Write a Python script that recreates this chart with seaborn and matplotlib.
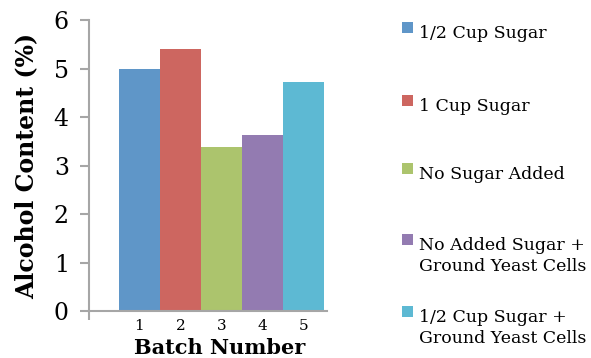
import matplotlib
matplotlib.use("Agg")
import matplotlib.pyplot as plt
from matplotlib.patches import Rectangle
import seaborn as sns
import pandas as pd

batches = ["1", "2", "3", "4", "5"]
alcohol = [5.0, 5.4, 3.38, 3.63, 4.72]
treatments = [
    "1/2 Cup Sugar",
    "1 Cup Sugar",
    "No Sugar Added",
    "No Added Sugar +\nGround Yeast Cells",
    "1/2 Cup Sugar +\nGround Yeast Cells",
]
colors = ["#5F96C8", "#CD6660", "#ACC46D", "#937BB1", "#5DB9D3"]
y_ticks = [0, 1, 2, 3, 4, 5, 6]

sns.set_theme(style="white")
plt.rcParams["font.family"] = ["DejaVu Serif"]
plt.rcParams["text.color"] = "black"
plt.rcParams["xtick.color"] = "black"
plt.rcParams["ytick.color"] = "black"

W, H = 591, 358
fig = plt.figure(figsize=(W / 100, H / 100), dpi=100)
ax = fig.add_axes([89 / W, 1 - 311 / H, (327 - 89) / W, (311 - 20) / H])

df = pd.DataFrame({"batch": batches, "alcohol": alcohol})
sns.barplot(data=df, x="batch", y="alcohol", hue="batch", palette=colors,
            width=1.0, saturation=1, legend=False, ax=ax, linewidth=0)

ax.set_xlim(-1.23, 4.57)
ax.set_ylim(0, 6)
ax.set_yticks(y_ticks)
ax.set_yticklabels([str(t) for t in y_ticks], fontsize=17)
ax.set_xticks(range(len(batches)))
ax.set_xticklabels(batches, fontsize=11)
ax.tick_params(axis="x", length=0, pad=6)
ax.tick_params(axis="y", length=6.5, width=1.5, color="#A6A6A6",
               labelcolor="black", direction="out", pad=8, left=True)
ax.set_xticks([-1.23], minor=True)
ax.tick_params(axis="x", which="minor", length=6.5, width=1.5,
               color="#A6A6A6", direction="out", bottom=True)

for side in ["top", "right"]:
    ax.spines[side].set_visible(False)
for side in ["left", "bottom"]:
    ax.spines[side].set_color("#A6A6A6")
    ax.spines[side].set_linewidth(1.5)

ax.set_xlabel("")
ax.set_ylabel("Alcohol Content (%)", fontsize=17, fontweight="bold",
              color="black")
ax.yaxis.set_label_coords(-0.215, 0.5)

fig.text(220 / W, 1 - 354 / H, "Batch Number", fontsize=15,
         fontweight="bold", ha="center", va="baseline",
         bbox=dict(facecolor="white", edgecolor="none", pad=2))

# legend entries laid out on the right
entry_tops = [22, 95, 163, 234, 306]
for top, label, col in zip(entry_tops, treatments, colors):
    fig.add_artist(Rectangle((402 / W, 1 - (top + 11) / H), 11 / W, 11 / H,
                             transform=fig.transFigure, facecolor=col,
                             edgecolor="none"))
    fig.text(419 / W, 1 - (top + 3) / H, label, fontsize=12.5,
             ha="left", va="top", linespacing=1.3)

fig.savefig("out.png", dpi=100)
